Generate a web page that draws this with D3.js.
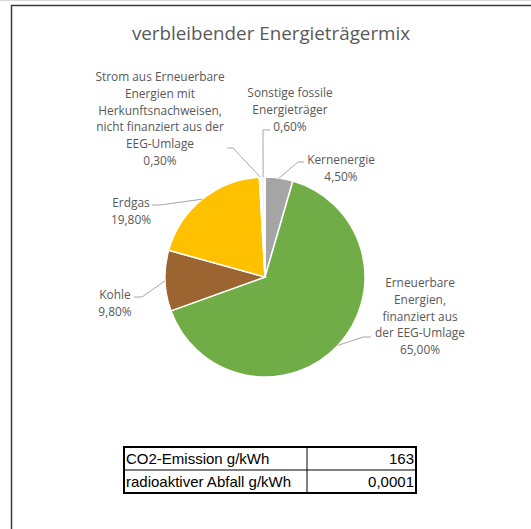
<!DOCTYPE html>
<html>
<head>
<meta charset="utf-8">
<script src="https://cdnjs.cloudflare.com/ajax/libs/d3/7.8.5/d3.min.js"></script>
<style>
  body { margin: 0; background: #fff; }
  svg { display: block; }
</style>
</head>
<body>
<div id="chart"></div>
<script>
// chart values
var categories = ["Kernenergie", "Erneuerbare Energien, finanziert aus der EEG-Umlage", "Kohle", "Erdgas",
  "Strom aus Erneuerbare Energien mit Herkunftsnachweisen, nicht finanziert aus der EEG-Umlage", "Sonstige fossile Energieträger"];
var shares = [4.5, 65.0, 9.8, 19.8, 0.3, 0.6];
var shareLabels = ["4,50%", "65,00%", "9,80%", "19,80%", "0,30%", "0,60%"];
var labelLines = [
  ["Kernenergie"],
  ["Erneuerbare", "Energien,", "finanziert aus", "der EEG-Umlage"],
  ["Kohle"],
  ["Erdgas"],
  ["Strom aus Erneuerbare", "Energien mit", "Herkunftsnachweisen,", "nicht finanziert aus der", "EEG-Umlage"],
  ["Sonstige fossile", "Energieträger"]
];
var colors = ["#a5a5a5", "#70ad47", "#9b6431", "#ffc000", "#9dc3e6", "#f4f4f4"];

var tableLabels = ["CO2-Emission g/kWh", "radioaktiver Abfall g/kWh"];
var tableValues = ["163", "0,0001"];

// layout
var svgWidth = 531;
var svgHeight = 529;
var cx = 265, cy = 277, radius = 100;
var lineH = 16.8;

// label centre x / first-line y, and leader start points
var labelPos = [
  {x: 341, y: 164, lead: [[304, 162], [298, 162]]},
  {x: 420, y: 287, lead: [[371, 337], [363, 337]]},
  {x: 115, y: 299, lead: [[134, 297], [142, 297]]},
  {x: 131, y: 207, lead: [[152, 205], [160, 205]]},
  {x: 160, y: 81, lead: [[227, 148], [233, 148]]},
  {x: 290, y: 97, lead: [[270, 130], [263, 130]]}
];

var svg = d3.select("#chart")
  .append("svg")
  .attr("width", svgWidth)
  .attr("height", svgHeight);

// frame
svg.append("line").attr("x1", 0).attr("x2", svgWidth).attr("y1", 0.5).attr("y2", 0.5)
  .attr("stroke", "#d9d9d9").attr("stroke-width", 1);
svg.append("path")
  .attr("d", "M11.5," + svgHeight + "V5.5H" + svgWidth)
  .attr("fill", "none")
  .attr("stroke", "#3a3a3a")
  .attr("stroke-width", 1.5);

// title
svg.append("text")
  .attr("x", 271)
  .attr("y", 40)
  .attr("text-anchor", "middle")
  .attr("font-family", "'Open Sans', sans-serif")
  .attr("font-size", "18.8px")
  .attr("fill", "#595959")
  .text("verbleibender Energieträgermix");

var pie = d3.pie().sort(null).value(d => d)(shares);
var arc = d3.arc().innerRadius(0).outerRadius(radius);
var edgeArc = d3.arc().innerRadius(radius).outerRadius(radius);

var pieGroup = svg.append("g")
  .attr("transform", `translate(${cx}, ${cy})`);

pieGroup.selectAll("path")
  .data(pie)
  .enter()
  .append("path")
  .attr("d", arc)
  .attr("fill", (d, i) => colors[i])
  .attr("stroke", "#fff")
  .attr("stroke-width", 1.5);

// leader lines
var leader = d3.line();
pie.forEach(function(d, i) {
  var end = edgeArc.centroid(d);
  var pts = labelPos[i].lead.concat([[cx + end[0], cy + end[1]]]);
  svg.append("path")
    .attr("d", leader(pts))
    .attr("fill", "none")
    .attr("stroke", "#a6a6a6")
    .attr("stroke-width", 1);
});

// labels
labelLines.forEach(function(lines, i) {
  var t = svg.append("text")
    .attr("text-anchor", "middle")
    .attr("font-family", "'Open Sans', sans-serif")
    .attr("font-size", "11.9px")
    .attr("fill", "#595959");
  lines.concat([shareLabels[i]]).forEach(function(s, j) {
    t.append("tspan")
      .attr("x", labelPos[i].x)
      .attr("y", labelPos[i].y + j * lineH)
      .text(s);
  });
});

// table
var tX = 124, tY = 447, tW = 292, rowH = 23, splitX = 307;
var table = svg.append("g");
tableLabels.forEach(function(lbl, i) {
  table.append("text")
    .attr("x", tX + 2)
    .attr("y", tY + i * rowH + 17)
    .attr("font-family", "'Liberation Sans', Arial, sans-serif")
    .attr("font-size", "15px")
    .attr("fill", "#000")
    .text(lbl);
  table.append("text")
    .attr("x", tX + tW - 2)
    .attr("y", tY + i * rowH + 17)
    .attr("text-anchor", "end")
    .attr("font-family", "'Liberation Sans', Arial, sans-serif")
    .attr("font-size", "15px")
    .attr("fill", "#000")
    .text(tableValues[i]);
});
table.append("line").attr("x1", tX).attr("x2", tX + tW).attr("y1", tY + rowH).attr("y2", tY + rowH)
  .attr("stroke", "#000").attr("stroke-width", 1);
table.append("line").attr("x1", splitX).attr("x2", splitX).attr("y1", tY).attr("y2", tY + 2 * rowH)
  .attr("stroke", "#000").attr("stroke-width", 1);
table.append("rect")
  .attr("x", tX).attr("y", tY).attr("width", tW).attr("height", 2 * rowH)
  .attr("fill", "none").attr("stroke", "#000").attr("stroke-width", 2);
</script>
</body>
</html>
